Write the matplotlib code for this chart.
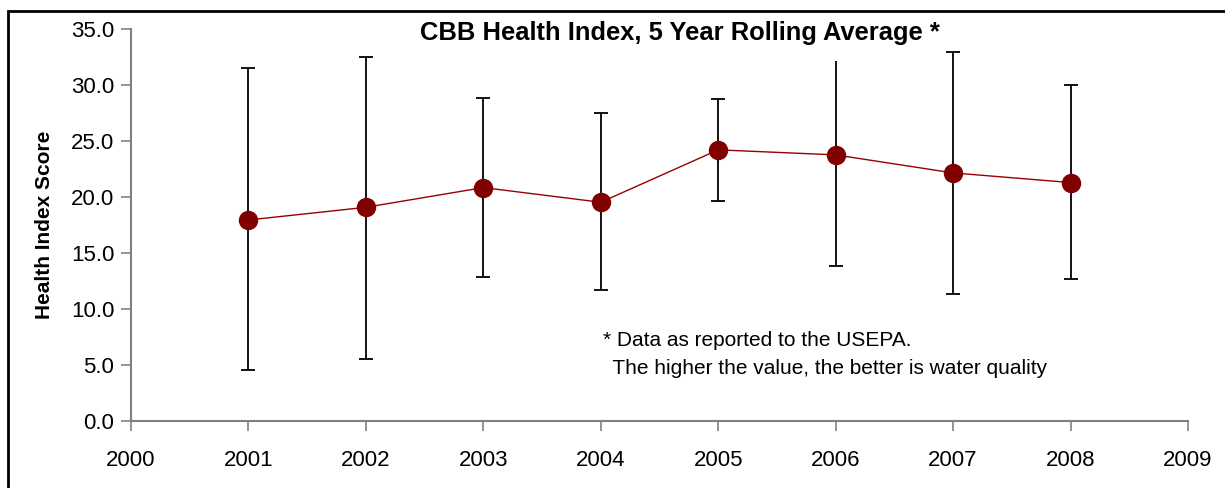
import numpy as np
import matplotlib.pyplot as plt
from matplotlib.patches import Rectangle

plt.rcParams['font.family'] = ['Liberation Sans', 'DejaVu Sans']

years = [2001, 2002, 2003, 2004, 2005, 2006, 2007, 2008]
score = [17.95, 19.08, 20.84, 19.53, 24.21, 23.76, 22.15, 21.29]
upper = [31.5, 32.5, 28.83, 27.52, 28.71, 32.14, 32.95, 29.99]
lower = [4.53, 5.52, 12.82, 11.66, 19.68, 13.83, 11.36, 12.7]
# the 2006 upper whisker has no cap in the original
top_cap = [True, True, True, True, True, False, True, True]

x_ticks = list(range(2000, 2010))
y_ticks = [0, 5, 10, 15, 20, 25, 30, 35]

score = np.array(score)
yerr = [score - np.array(lower), np.array(upper) - score]

fig = plt.figure(figsize=(12.25, 4.88), dpi=100)
ax = fig.add_axes([131/1225, 1 - 421/488, (1188 - 131)/1225, (421 - 29)/488])

ax.errorbar(years, score, yerr=yerr, fmt='none', ecolor='black',
            elinewidth=1.3, capsize=0, zorder=2)
cap_x = [y for y, c in zip(years, top_cap) if c]
cap_y = [u for u, c in zip(upper, top_cap) if c]
ax.plot(cap_x, cap_y, ls='none', marker='_', markersize=10, mew=1.3, color='black', zorder=2)
ax.plot(years, lower, ls='none', marker='_', markersize=10, mew=1.3, color='black', zorder=2)
ax.plot(years, score, color='#990000', lw=1.0, marker='o', markersize=13,
        markerfacecolor='#800000', markeredgecolor='#800000', zorder=3)

ax.set_xlim(2000, 2009)
ax.set_ylim(0, 35)
ax.set_xticks(x_ticks)
ax.set_yticks(y_ticks)
ax.set_yticklabels([f"{v:.1f}" for v in y_ticks])
ax.tick_params(axis='both', labelsize=16, color='#808080', length=7, width=1.2)
ax.tick_params(axis='x', pad=14)
ax.tick_params(axis='y', pad=5)
for s in ['top', 'right']:
    ax.spines[s].set_visible(False)
for s in ['left', 'bottom']:
    ax.spines[s].set_color('#808080')
    ax.spines[s].set_linewidth(1.5)

ax.set_ylabel("Health Index Score", fontsize=15, fontweight='bold', labelpad=12)

fig.text(680/1225, 1 - 33/488, "CBB Health Index, 5 Year Rolling Average *",
         ha='center', va='center', fontsize=18.4, fontweight='bold')

ax.text(2004.02, 7.2, "* Data as reported to the USEPA.", fontsize=15, va='center')
ax.text(2004.05, 4.7, " The higher the value, the better is water quality", fontsize=15, va='center')

# outer frame of the chart
fig.patches.append(Rectangle((8/1225, -0.1), 1.2, 1 - 11/488 + 0.1,
                             transform=fig.transFigure, fill=False,
                             edgecolor='black', lw=2, zorder=0))

fig.savefig("out.png", dpi=100)
